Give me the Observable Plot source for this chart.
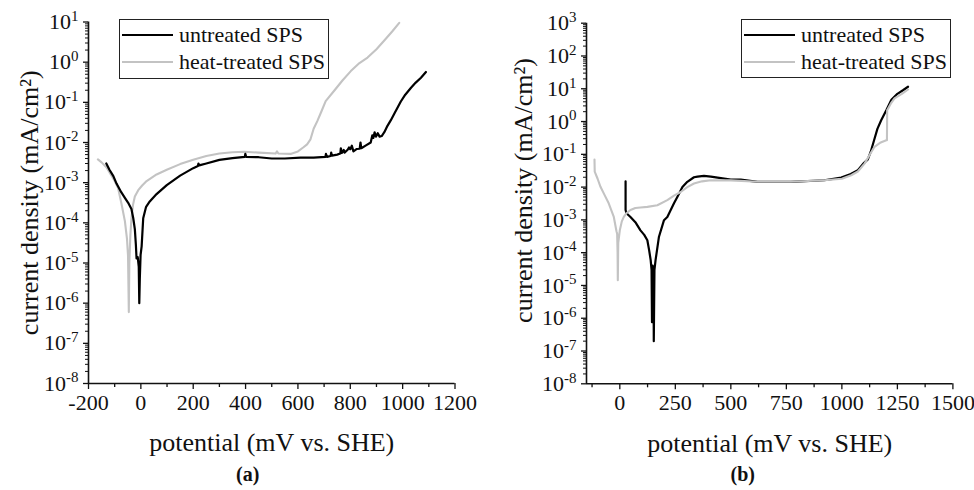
<!DOCTYPE html>
<html><head><meta charset="utf-8">
<script src="https://cdn.jsdelivr.net/npm/d3@7"></script>
<script src="https://cdn.jsdelivr.net/npm/@observablehq/plot@0.6"></script>
<style>
body{margin:0;background:#fff;}
#wrap{position:relative;width:974px;height:490px;overflow:hidden;font-family:"Liberation Serif",serif;background:#fff;}
.panel{position:absolute;top:0;width:487px;height:490px;}
.legend{position:absolute;border:1.3px solid #222;background:#fff;box-sizing:border-box;}
.legend .sw{position:absolute;left:2px;width:51px;height:0;}
.legend .lab{position:absolute;left:59px;font-size:22px;line-height:22px;white-space:nowrap;color:#111;transform:translateY(-52%);}
</style>
</head><body>
<div id="wrap">
  <div class="panel" id="pa" style="left:0"></div>
  <div class="panel" id="pb" style="left:487px"></div>
</div>
<script>
// ---------- data: [potential mV vs SHE, current density mA/cm2] ----------
const untreatedA = [[-132,3.0e-3],[-120,2.1e-3],[-105,1.45e-3],[-93,9.5e-4],[-75,5.8e-4],[-61,4.2e-4],[-49,3.2e-4],[-36,2.2e-4],[-29,1.3e-4],[-23,7e-5],[-19,2.8e-5],[-16.5,1.3e-5],[-12,1.4e-5],[-8,8e-6],[-6,1.0e-6],[-4,4e-6],[-1,1.6e-5],[3,2.6e-5],[9,1.3e-4],[20,2.5e-4],[34,3.4e-4],[60,5.2e-4],[99,8.7e-4],[150,1.5e-3],[200,2.3e-3],[218,2.6e-3],[220,3.0e-3],[223,2.7e-3],[250,3.0e-3],[300,3.7e-3],[350,4.1e-3],[397,4.4e-3],[399,5.2e-3],[402,4.4e-3],[450,4.3e-3],[500,4.0e-3],[550,4.0e-3],[610,4.2e-3],[660,4.2e-3],[705,4.4e-3],[707,5.2e-3],[711,4.4e-3],[725,4.6e-3],[727,5.6e-3],[730,4.7e-3],[750,5.0e-3],[762,5.3e-3],[764,7.2e-3],[768,5.5e-3],[775,6.5e-3],[778,5.6e-3],[790,6.6e-3],[795,7.5e-3],[800,6.8e-3],[806,8.3e-3],[812,6.0e-3],[825,6.9e-3],[836,7.0e-3],[839,1.0e-2],[842,7.2e-3],[860,8.5e-3],[878,1.0e-2],[884,1.5e-2],[888,1.3e-2],[893,1.8e-2],[898,1.4e-2],[905,1.7e-2],[912,1.4e-2],[920,1.45e-2],[930,1.8e-2],[942,2.6e-2],[955,3.6e-2],[968,5.2e-2],[993,1.05e-1],[1010,1.55e-1],[1032,2.3e-1],[1050,3.1e-1],[1070,4.1e-1],[1089,5.7e-1]];
const heatA = [[-164,3.8e-3],[-150,3.2e-3],[-131,2.4e-3],[-115,1.6e-3],[-100,1.1e-3],[-87,7.4e-4],[-74,3.0e-4],[-61,1.1e-4],[-53,4e-5],[-49,1.5e-5],[-46,6e-7],[-44,1.0e-5],[-40,5e-5],[-36,1.3e-4],[-30,2.8e-4],[-23,4.5e-4],[-10,6.5e-4],[5,8.5e-4],[22,1.1e-3],[60,1.6e-3],[99,2.1e-3],[150,2.9e-3],[200,3.7e-3],[250,4.6e-3],[300,5.3e-3],[350,5.7e-3],[395,5.9e-3],[450,5.6e-3],[515,5.3e-3],[520,6.0e-3],[525,5.3e-3],[572,5.2e-3],[600,6.0e-3],[620,7.5e-3],[635,9.0e-3],[648,1.2e-2],[660,2.2e-2],[674,3.4e-2],[690,6.0e-2],[706,1.07e-1],[740,2.0e-1],[770,3.5e-1],[802,6.0e-1],[835,9.5e-1],[866,1.3],[900,2.1],[929,3.4],[960,5.8],[987,9.5]];
const untreatedB = [[26,1.5e-2],[26,2.0e-3],[30,1.6e-3],[48,1.23e-3],[70,8.5e-4],[93,4.8e-4],[110,3.5e-4],[124,2.4e-4],[132,1.2e-4],[139,5.9e-5],[143,3e-5],[145,7.6e-7],[148,4e-5],[152,1e-5],[153,2e-7],[156,3e-5],[161,5.9e-5],[176,3.0e-4],[199,9.8e-4],[214,1.23e-3],[244,3.2e-3],[259,5.0e-3],[282,1.0e-2],[304,1.45e-2],[334,2.0e-2],[350,2.1e-2],[379,2.2e-2],[410,2.1e-2],[500,1.7e-2],[545,1.7e-2],[620,1.45e-2],[771,1.45e-2],[921,1.62e-2],[997,1.95e-2],[1040,2.5e-2],[1072,3.3e-2],[1100,5.5e-2],[1117,7e-2],[1130,1.2e-1],[1147,3.0e-1],[1160,6e-1],[1177,1.1],[1200,2.2],[1223,4.6],[1250,7.0],[1275,9.0],[1298,11.5]];
const heatB = [[-114,6.9e-2],[-113,2.95e-2],[-100,1.8e-2],[-87,1.02e-2],[-70,6e-3],[-50,3.2e-3],[-27,1.23e-3],[-15,4.5e-4],[-12,3.8e-4],[-10,1.0e-4],[-9,1.45e-5],[-7,2e-4],[0,4.8e-4],[9,9e-4],[18,1.23e-3],[30,1.6e-3],[48,2.0e-3],[70,2.3e-3],[93,2.4e-3],[124,2.5e-3],[169,2.8e-3],[214,4.0e-3],[244,5.5e-3],[274,7.1e-3],[304,1.0e-2],[334,1.29e-2],[370,1.5e-2],[410,1.62e-2],[500,1.6e-2],[620,1.45e-2],[771,1.45e-2],[921,1.62e-2],[1000,1.8e-2],[1042,2.3e-2],[1072,3.0e-2],[1102,5.2e-2],[1130,1.1e-1],[1147,1.7e-1],[1175,2.3e-1],[1200,2.7e-1],[1203,2.7e-1],[1204,2.2],[1220,3.5],[1237,5.1],[1270,7.0],[1298,9.5]];

// ---------- axes / labels ----------
const seriesNames = ["untreated SPS", "heat-treated SPS"];
const xLabel = "potential (mV vs. SHE)";
const yLabel = "current density (mA/cm²)";
const xMajorA = [-200,0,200,400,600,800,1000,1200];
const xMinorA = [-100,100,300,500,700,900,1100];
const yExpA = [-8,-7,-6,-5,-4,-3,-2,-1,0,1];
const xMajorB = [0,250,500,750,1000,1250,1500];
const xMinorB = [-125,125,375,625,875,1125,1375];
const yExpB = [-8,-7,-6,-5,-4,-3,-2,-1,0,1,2,3];

const GRAY = "#c3c3c3";

function minorLog(exps){
  const out=[];
  for (let k=0;k<exps.length-1;k++) for (let m=2;m<=9;m++) out.push(m*Math.pow(10,exps[k]));
  return out;
}

function makePanel(o){
  const un = o.un.map(([E,i])=>({E,i}));
  const ht = o.ht.map(([E,i])=>({E,i}));
  const lineU = Plot.line(un,{x:"E",y:"i",stroke:"#000",strokeWidth:2.2,strokeLinejoin:"round"});
  const lineH = Plot.line(ht,{x:"E",y:"i",stroke:GRAY,strokeWidth:2.1,strokeLinejoin:"round"});
  const yMajor = o.yExp.map(e=>Math.pow(10,e));
  const svg = Plot.plot({
    width:487, height:490,
    marginLeft:o.ml, marginRight:o.mr, marginTop:o.mt, marginBottom:o.mb,
    style:{fontFamily:'"Liberation Serif", serif', background:"white", color:"#111", overflow:"visible"},
    x:{domain:o.xDomain, label:null},
    y:{type:"log", domain:[yMajor[0], yMajor[yMajor.length-1]], label:null},
    marks:[
      Plot.axisX({ticks:o.xMajor, tickSize:6, tickPadding:5, fontSize:22, strokeWidth:1.3, tickFormat:d=>String(d), label:null}),
      Plot.axisX({ticks:o.xMinor, tickSize:4, strokeWidth:1.3, fill:"none", tickFormat:()=>"", label:null}),
      Plot.axisY({ticks:yMajor, tickSize:5, tickPadding:5, fontSize:22, strokeWidth:1.3, tickFormat:d=>String(Math.round(Math.log10(d))), label:null}),
      Plot.axisY({ticks:minorLog(o.yExp), tickSize:3, strokeWidth:1, fill:"none", tickFormat:()=>"", label:null}),
      Plot.ruleX([o.xDomain[0]],{strokeWidth:1.6}),
      Plot.ruleY([yMajor[0]],{strokeWidth:1.6}),
      ...(o.grayOnTop ? [lineU, lineH] : [lineH, lineU]),
      Plot.text([xLabel],{text:d=>d, frameAnchor:"bottom", textAnchor:"middle", lineAnchor:"middle", dy:o.xtDy, fontSize:26}),
      Plot.text([yLabel],{text:d=>d, frameAnchor:"left", textAnchor:"middle", lineAnchor:"middle", dx:o.ytDx, dy:o.ytDy, rotate:-90, fontSize:26}),
      Plot.text([o.tag],{text:d=>d, frameAnchor:"bottom", textAnchor:"middle", lineAnchor:"middle", dx:o.tagDx, dy:o.tagDy, fontSize:20, fontWeight:"bold"})
    ]
  });
  // superscript exponents on y tick labels
  const ns="http://www.w3.org/2000/svg";
  svg.querySelectorAll('g[aria-label="y-axis tick label"] text').forEach(t=>{
    const e=t.textContent; if(!e) return;
    t.textContent="";
    const a=document.createElementNS(ns,"tspan"); a.textContent="10";
    const b=document.createElementNS(ns,"tspan"); b.textContent=e;
    b.setAttribute("dy","-0.55em"); b.setAttribute("font-size","15");
    t.append(a,b);
  });
  return svg;
}

function legend(parent, left, top, width, height){
  const box=document.createElement("div");
  box.className="legend";
  Object.assign(box.style,{left:left+"px",top:top+"px",width:width+"px",height:height+"px"});
  const rows=[[seriesNames[0],"#000",2.8,15],[seriesNames[1],GRAY,2.6,42]];
  for(const [name,col,w,y] of rows){
    const sw=document.createElement("div"); sw.className="sw";
    sw.style.top=(y-w/2)+"px"; sw.style.borderTop=w+"px solid "+col;
    const lab=document.createElement("div"); lab.className="lab"; lab.textContent=name; lab.style.top=y+"px";
    box.append(sw,lab);
  }
  parent.append(box);
}

document.getElementById("pa").append(makePanel({
  un:untreatedA, ht:heatA, xDomain:[-200,1200], xMajor:xMajorA, xMinor:xMinorA, yExp:yExpA,
  ml:88, mr:32.5, mt:21.5, mb:107, xtDy:59, ytDx:-59, ytDy:0, tag:"(a)", tagDx:-24, tagDy:91, grayOnTop:false
}));
document.getElementById("pb").append(makePanel({
  un:untreatedB, ht:heatB, xDomain:[-150,1500], xMajor:xMajorB, xMinor:xMinorB, yExp:yExpB,
  ml:99, mr:21.6, mt:22.7, mb:106.7, xtDy:60, ytDx:-63, ytDy:-13, tag:"(b)", tagDx:-27, tagDy:91, grayOnTop:true
}));
const wrap=document.getElementById("wrap");
legend(wrap,119,19,210,60);
legend(wrap,741,19,210,59);
</script>
</body></html>
